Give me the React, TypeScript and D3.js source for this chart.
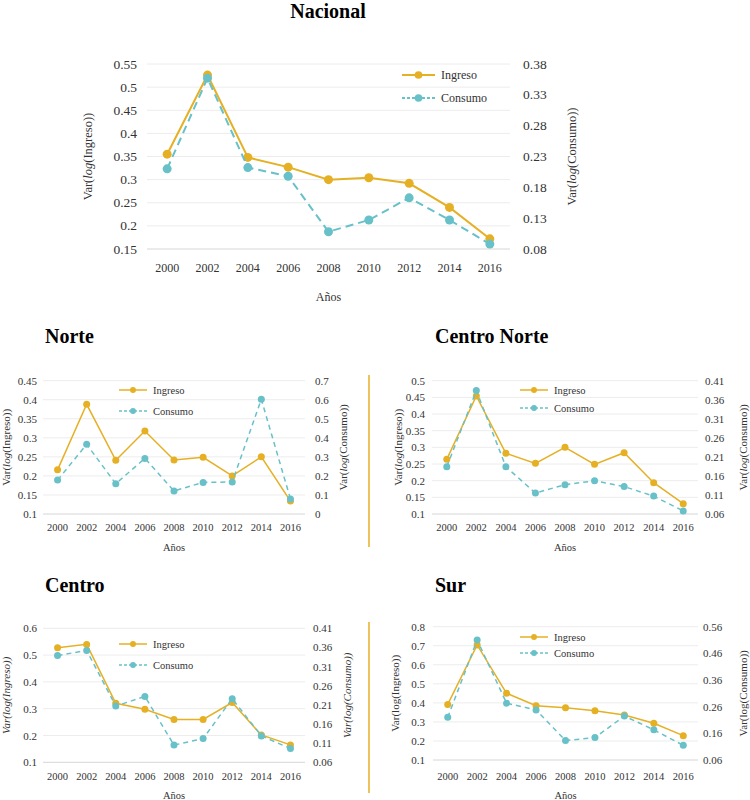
import * as d3 from "d3";

const years = ["2000", "2002", "2004", "2006", "2008", "2010", "2012", "2014", "2016"];

const nacionalIngreso = [0.355, 0.526, 0.348, 0.327, 0.3, 0.304, 0.292, 0.24, 0.172];
const nacionalConsumo = [0.21, 0.357, 0.212, 0.198, 0.108, 0.127, 0.163, 0.127, 0.088];
const norteIngreso = [0.216, 0.388, 0.241, 0.318, 0.242, 0.249, 0.2, 0.25, 0.134];
const norteConsumo = [0.178, 0.366, 0.159, 0.292, 0.121, 0.166, 0.168, 0.602, 0.079];
const centroNorteIngreso = [0.264, 0.454, 0.282, 0.252, 0.3, 0.249, 0.284, 0.194, 0.131];
const centroNorteConsumo = [0.184, 0.384, 0.184, 0.115, 0.137, 0.147, 0.132, 0.107, 0.068];
const centroIngreso = [0.527, 0.54, 0.32, 0.298, 0.26, 0.26, 0.323, 0.202, 0.165];
const centroConsumo = [0.339, 0.352, 0.207, 0.232, 0.105, 0.122, 0.226, 0.129, 0.096];
const surIngreso = [0.392, 0.704, 0.45, 0.385, 0.375, 0.359, 0.336, 0.293, 0.228];
const surConsumo = [0.22, 0.51, 0.273, 0.248, 0.133, 0.144, 0.225, 0.173, 0.115];

const nacionalLeftTicks = [0.15, 0.2, 0.25, 0.3, 0.35, 0.4, 0.45, 0.5, 0.55];
const nacionalRightTicks = [0.08, 0.13, 0.18, 0.23, 0.28, 0.33, 0.38];
const norteLeftTicks = [0.1, 0.15, 0.2, 0.25, 0.3, 0.35, 0.4, 0.45];
const norteRightTicks = [0, 0.1, 0.2, 0.3, 0.4, 0.5, 0.6, 0.7];
const centroNorteLeftTicks = [0.1, 0.15, 0.2, 0.25, 0.3, 0.35, 0.4, 0.45, 0.5];
const centroNorteRightTicks = [0.06, 0.11, 0.16, 0.21, 0.26, 0.31, 0.36, 0.41];
const centroLeftTicks = [0.1, 0.2, 0.3, 0.4, 0.5, 0.6];
const centroRightTicks = [0.06, 0.11, 0.16, 0.21, 0.26, 0.31, 0.36, 0.41];
const surLeftTicks = [0.1, 0.2, 0.3, 0.4, 0.5, 0.6, 0.7, 0.8];
const surRightTicks = [0.06, 0.16, 0.26, 0.36, 0.46, 0.56];

const GOLD = "#E6B024";
const TEAL = "#68C1C8";
const TEXT = "#333";
const FONT = "Liberation Serif, Times New Roman, serif";

const fmt = (v: number) => String(+v.toFixed(2));

interface PanelProps {
  title: string;
  titleX: number;
  titleY: number;
  titleAnchor?: string;
  ingreso: number[];
  consumo: number[];
  leftTicks: number[];
  rightTicks: number[];
  left: number;
  right: number;
  top: number;
  bottom: number;
  leftLabelX: number;
  rightLabelX: number;
  leftTitleX: number;
  rightTitleX: number;
  yearY: number;
  anosY: number;
  legendX: number;
  legendY: [number, number];
  italic?: "log" | "all" | "none";
  tickSize: number;
  yearSize: number;
  titleSize: number;
  legendSize: number;
  r: number;
  strokeW: number;
  dash: string;
}

function AxisTitle({ x, y, name, italic, size }: { x: number; y: number; name: string; italic: string; size: number }) {
  return (
    <text
      transform={`translate(${x},${y}) rotate(-90)`}
      textAnchor="middle"
      dominantBaseline="central"
      fontSize={size}
      fill={TEXT}
      style={{ fontFamily: FONT, fontStyle: italic === "all" ? "italic" : "normal" }}
    >
      Var(<tspan style={{ fontStyle: italic === "none" ? "normal" : "italic" }}>log</tspan>({name}))
    </text>
  );
}

function Panel(p: PanelProps) {
  const x = d3.scalePoint<string>().domain(years).range([p.left, p.right]).padding(0.5);
  const yL = d3.scaleLinear([p.leftTicks[0], p.leftTicks[p.leftTicks.length - 1]], [p.bottom, p.top]);
  const yR = d3.scaleLinear([p.rightTicks[0], p.rightTicks[p.rightTicks.length - 1]], [p.bottom, p.top]);
  const lineI = d3.line<number>((_, i) => x(years[i])!, (d) => yL(d));
  const lineC = d3.line<number>((_, i) => x(years[i])!, (d) => yR(d));
  const italic = p.italic ?? "log";
  const midY = (p.top + p.bottom) / 2;
  const lx1 = p.legendX;
  const lx2 = p.legendX + (p.strokeW > 1.8 ? 33 : 28);
  const ff = { fontFamily: FONT };

  return (
    <g style={ff}>
      <text x={p.titleX} y={p.titleY} fontSize={20} fontWeight="bold" fill="#000" textAnchor={p.titleAnchor ?? "start"} style={ff}>
        {p.title}
      </text>
      {p.leftTicks.map((t, i) => (
        <line key={t} x1={p.left} x2={p.right} y1={yL(t)} y2={yL(t)} stroke={i === 0 ? "#d6d6d6" : "#ececec"} strokeWidth={1} />
      ))}
      {p.leftTicks.map((t) => (
        <text key={t} x={p.leftLabelX} y={yL(t)} textAnchor="end" dominantBaseline="central" fontSize={p.tickSize} fill={TEXT} style={ff}>
          {fmt(t)}
        </text>
      ))}
      {p.rightTicks.map((t) => (
        <text key={t} x={p.rightLabelX} y={yR(t)} dominantBaseline="central" fontSize={p.tickSize} fill={TEXT} style={ff}>
          {fmt(t)}
        </text>
      ))}
      {years.map((yr) => (
        <text key={yr} x={x(yr)} y={p.yearY} textAnchor="middle" dominantBaseline="central" fontSize={p.yearSize} fill={TEXT} style={ff}>
          {yr}
        </text>
      ))}
      <text x={(p.left + p.right) / 2} y={p.anosY} textAnchor="middle" dominantBaseline="central" fontSize={p.yearSize} fill={TEXT} style={ff}>
        Años
      </text>
      <AxisTitle x={p.leftTitleX} y={midY} name="Ingreso" italic={italic} size={p.titleSize} />
      <AxisTitle x={p.rightTitleX} y={midY} name="Consumo" italic={italic} size={p.titleSize} />

      <path d={lineI(p.ingreso)!} fill="none" stroke={GOLD} strokeWidth={p.strokeW} />
      {p.ingreso.map((d, i) => (
        <circle key={i} cx={x(years[i])} cy={yL(d)} r={p.r} fill={GOLD} />
      ))}
      <path d={lineC(p.consumo)!} fill="none" stroke={TEAL} strokeWidth={p.strokeW} strokeDasharray={p.dash} />
      {p.consumo.map((d, i) => (
        <circle key={i} cx={x(years[i])} cy={yR(d)} r={p.r} fill={TEAL} />
      ))}

      <line x1={lx1} x2={lx2} y1={p.legendY[0]} y2={p.legendY[0]} stroke={GOLD} strokeWidth={p.strokeW} />
      <circle cx={(lx1 + lx2) / 2} cy={p.legendY[0]} r={p.r * 0.85} fill={GOLD} />
      <text x={lx2 + 6} y={p.legendY[0]} dominantBaseline="central" fontSize={p.legendSize} fill={TEXT} style={ff}>
        Ingreso
      </text>
      <line x1={lx1} x2={lx2} y1={p.legendY[1]} y2={p.legendY[1]} stroke={TEAL} strokeWidth={p.strokeW} strokeDasharray="3,2" />
      <circle cx={(lx1 + lx2) / 2} cy={p.legendY[1]} r={p.r * 0.85} fill={TEAL} />
      <text x={lx2 + 6} y={p.legendY[1]} dominantBaseline="central" fontSize={p.legendSize} fill={TEXT} style={ff}>
        Consumo
      </text>
    </g>
  );
}

const small = {
  tickSize: 11,
  yearSize: 10.5,
  titleSize: 11,
  legendSize: 10.5,
  r: 3.5,
  strokeW: 1.5,
  dash: "5,4",
};

export default function App() {
  return (
    <svg width={750} height={800} style={{ position: "absolute", left: 0, top: 0, background: "#fff", fontFamily: FONT }}>
      <Panel
        title="Nacional"
        titleX={328}
        titleY={18}
        titleAnchor="middle"
        ingreso={nacionalIngreso}
        consumo={nacionalConsumo}
        leftTicks={nacionalLeftTicks}
        rightTicks={nacionalRightTicks}
        left={147}
        right={510}
        top={64}
        bottom={249}
        leftLabelX={137}
        rightLabelX={523}
        leftTitleX={88}
        rightTitleX={572}
        yearY={268}
        anosY={297}
        legendX={402}
        legendY={[75, 98]}
        tickSize={13.5}
        yearSize={12}
        titleSize={12.5}
        legendSize={12}
        r={4.5}
        strokeW={2}
        dash="8,5"
      />
      <Panel
        title="Norte"
        titleX={45}
        titleY={343}
        ingreso={norteIngreso}
        consumo={norteConsumo}
        leftTicks={norteLeftTicks}
        rightTicks={norteRightTicks}
        left={43}
        right={305}
        top={380.7}
        bottom={514}
        leftLabelX={37}
        rightLabelX={315}
        leftTitleX={6}
        rightTitleX={343}
        yearY={527}
        anosY={547}
        legendX={119}
        legendY={[390, 411]}
        {...small}
      />
      <Panel
        title="Centro Norte"
        titleX={435}
        titleY={343}
        ingreso={centroNorteIngreso}
        consumo={centroNorteConsumo}
        leftTicks={centroNorteLeftTicks}
        rightTicks={centroNorteRightTicks}
        left={432}
        right={698}
        top={380.7}
        bottom={514}
        leftLabelX={425}
        rightLabelX={705}
        leftTitleX={398}
        rightTitleX={743}
        yearY={527}
        anosY={547}
        legendX={520}
        legendY={[390, 408]}
        {...small}
      />
      <Panel
        title="Centro"
        titleX={45}
        titleY={592}
        ingreso={centroIngreso}
        consumo={centroConsumo}
        leftTicks={centroLeftTicks}
        rightTicks={centroRightTicks}
        left={43}
        right={305}
        top={628.3}
        bottom={762.3}
        leftLabelX={37}
        rightLabelX={313}
        leftTitleX={6}
        rightTitleX={347}
        yearY={776}
        anosY={795}
        legendX={119}
        legendY={[644, 665]}
        italic="all"
        {...small}
      />
      <Panel
        title="Sur"
        titleX={435}
        titleY={592}
        ingreso={surIngreso}
        consumo={surConsumo}
        leftTicks={surLeftTicks}
        rightTicks={surRightTicks}
        left={433}
        right={698}
        top={626.7}
        bottom={760}
        leftLabelX={425}
        rightLabelX={703}
        leftTitleX={395}
        rightTitleX={743}
        yearY={776}
        anosY={795}
        legendX={520}
        legendY={[637, 653]}
        italic="none"
        {...small}
      />
      <line x1={369} x2={369} y1={375} y2={547} stroke={GOLD} strokeWidth={1.5} />
      <line x1={369} x2={369} y1={622} y2={793} stroke={GOLD} strokeWidth={1.5} />
    </svg>
  );
}
